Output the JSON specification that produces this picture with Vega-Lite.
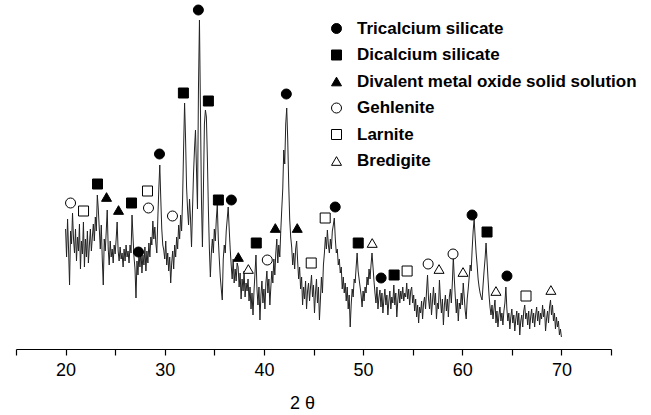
{
  "$schema": "https://vega.github.io/schema/vega-lite/v6.json",
  "autosize": "none",
  "width": 595,
  "height": 349,
  "padding": {"left": 16, "top": 0, "right": 40, "bottom": 66},
  "background": "white",
  "config": {
    "view": {"stroke": null},
    "font": "Liberation Sans"
  },
  "datasets": {
    "pattern": [
      {"angle":20.0,"counts":120},{"angle":20.1,"counts":92},{"angle":20.2,"counts":130},{"angle":20.3,"counts":100},{"angle":20.4,"counts":64},{"angle":20.5,"counts":118},{"angle":20.6,"counts":105},{"angle":20.7,"counts":136},{"angle":20.8,"counts":110},{"angle":20.9,"counts":96},
      {"angle":21.0,"counts":120},{"angle":21.1,"counts":88},{"angle":21.2,"counts":112},{"angle":21.3,"counts":98},{"angle":21.4,"counts":125},{"angle":21.5,"counts":80},{"angle":21.6,"counts":108},{"angle":21.7,"counts":95},{"angle":21.8,"counts":127},{"angle":21.9,"counts":82},
      {"angle":22.0,"counts":110},{"angle":22.1,"counts":92},{"angle":22.2,"counts":118},{"angle":22.3,"counts":86},{"angle":22.4,"counts":104},{"angle":22.5,"counts":120},{"angle":22.6,"counts":98},{"angle":22.7,"counts":112},{"angle":22.8,"counts":125},{"angle":22.9,"counts":108},
      {"angle":23.0,"counts":132},{"angle":23.1,"counts":118},{"angle":23.2,"counts":154},{"angle":23.3,"counts":140},{"angle":23.4,"counts":120},{"angle":23.5,"counts":100},{"angle":23.6,"counts":124},{"angle":23.7,"counts":90},{"angle":23.8,"counts":64},{"angle":23.9,"counts":110},
      {"angle":24.0,"counts":98},{"angle":24.1,"counts":118},{"angle":24.2,"counts":139},{"angle":24.3,"counts":100},{"angle":24.4,"counts":84},{"angle":24.5,"counts":108},{"angle":24.6,"counts":92},{"angle":24.7,"counts":100},{"angle":24.8,"counts":86},{"angle":24.9,"counts":104},
      {"angle":25.0,"counts":95},{"angle":25.1,"counts":110},{"angle":25.2,"counts":127},{"angle":25.3,"counts":98},{"angle":25.4,"counts":88},{"angle":25.5,"counts":102},{"angle":25.6,"counts":90},{"angle":25.7,"counts":96},{"angle":25.8,"counts":82},{"angle":25.9,"counts":100},
      {"angle":26.0,"counts":88},{"angle":26.1,"counts":104},{"angle":26.2,"counts":92},{"angle":26.3,"counts":98},{"angle":26.4,"counts":86},{"angle":26.5,"counts":104},{"angle":26.6,"counts":96},{"angle":26.7,"counts":134},{"angle":26.8,"counts":112},{"angle":26.9,"counts":92},
      {"angle":27.0,"counts":80},{"angle":27.1,"counts":51},{"angle":27.2,"counts":88},{"angle":27.3,"counts":74},{"angle":27.4,"counts":96},{"angle":27.5,"counts":82},{"angle":27.6,"counts":100},{"angle":27.7,"counts":76},{"angle":27.8,"counts":94},{"angle":27.9,"counts":84},
      {"angle":28.0,"counts":102},{"angle":28.1,"counts":78},{"angle":28.2,"counts":98},{"angle":28.3,"counts":86},{"angle":28.4,"counts":106},{"angle":28.5,"counts":92},{"angle":28.6,"counts":112},{"angle":28.7,"counts":104},{"angle":28.8,"counts":128},{"angle":28.9,"counts":110},
      {"angle":29.0,"counts":122},{"angle":29.1,"counts":106},{"angle":29.2,"counts":96},{"angle":29.3,"counts":130},{"angle":29.4,"counts":160},{"angle":29.5,"counts":184},{"angle":29.6,"counts":150},{"angle":29.7,"counts":120},{"angle":29.8,"counts":104},{"angle":29.9,"counts":99},
      {"angle":30.0,"counts":90},{"angle":30.1,"counts":108},{"angle":30.2,"counts":84},{"angle":30.3,"counts":96},{"angle":30.4,"counts":78},{"angle":30.5,"counts":92},{"angle":30.6,"counts":66},{"angle":30.7,"counts":86},{"angle":30.8,"counts":98},{"angle":30.9,"counts":80},
      {"angle":31.0,"counts":104},{"angle":31.1,"counts":92},{"angle":31.2,"counts":112},{"angle":31.3,"counts":100},{"angle":31.4,"counts":124},{"angle":31.5,"counts":110},{"angle":31.6,"counts":134},{"angle":31.7,"counts":118},{"angle":31.8,"counts":150},{"angle":31.9,"counts":200},
      {"angle":32.0,"counts":246},{"angle":32.1,"counts":210},{"angle":32.2,"counts":162},{"angle":32.3,"counts":140},{"angle":32.4,"counts":124},{"angle":32.5,"counts":150},{"angle":32.6,"counts":130},{"angle":32.7,"counts":102},{"angle":32.8,"counts":140},{"angle":32.9,"counts":175},
      {"angle":33.0,"counts":200},{"angle":33.1,"counts":219},{"angle":33.2,"counts":180},{"angle":33.3,"counts":140},{"angle":33.4,"counts":260},{"angle":33.5,"counts":329},{"angle":33.6,"counts":240},{"angle":33.7,"counts":150},{"angle":33.8,"counts":102},{"angle":33.9,"counts":160},
      {"angle":34.0,"counts":225},{"angle":34.1,"counts":239},{"angle":34.2,"counts":232},{"angle":34.3,"counts":190},{"angle":34.4,"counts":140},{"angle":34.5,"counts":100},{"angle":34.6,"counts":72},{"angle":34.7,"counts":96},{"angle":34.8,"counts":110},{"angle":34.9,"counts":96},
      {"angle":35.0,"counts":120},{"angle":35.1,"counts":108},{"angle":35.2,"counts":130},{"angle":35.3,"counts":144},{"angle":35.4,"counts":110},{"angle":35.5,"counts":90},{"angle":35.6,"counts":72},{"angle":35.7,"counts":60},{"angle":35.8,"counts":49},{"angle":35.9,"counts":90},
      {"angle":36.0,"counts":104},{"angle":36.1,"counts":96},{"angle":36.2,"counts":118},{"angle":36.3,"counts":130},{"angle":36.4,"counts":142},{"angle":36.5,"counts":120},{"angle":36.6,"counts":100},{"angle":36.7,"counts":84},{"angle":36.8,"counts":70},{"angle":36.9,"counts":90},
      {"angle":37.0,"counts":66},{"angle":37.1,"counts":80},{"angle":37.2,"counts":68},{"angle":37.3,"counts":86},{"angle":37.4,"counts":82},{"angle":37.5,"counts":62},{"angle":37.6,"counts":76},{"angle":37.7,"counts":50},{"angle":37.8,"counts":70},{"angle":37.9,"counts":58},
      {"angle":38.0,"counts":78},{"angle":38.1,"counts":52},{"angle":38.2,"counts":66},{"angle":38.3,"counts":58},{"angle":38.4,"counts":70},{"angle":38.5,"counts":48},{"angle":38.6,"counts":62},{"angle":38.7,"counts":40},{"angle":38.8,"counts":56},{"angle":38.9,"counts":34},
      {"angle":39.0,"counts":58},{"angle":39.1,"counts":76},{"angle":39.2,"counts":94},{"angle":39.3,"counts":60},{"angle":39.4,"counts":44},{"angle":39.5,"counts":62},{"angle":39.6,"counts":29},{"angle":39.7,"counts":54},{"angle":39.8,"counts":68},{"angle":39.9,"counts":46},
      {"angle":40.0,"counts":60},{"angle":40.1,"counts":40},{"angle":40.2,"counts":66},{"angle":40.3,"counts":78},{"angle":40.4,"counts":56},{"angle":40.5,"counts":70},{"angle":40.6,"counts":44},{"angle":40.7,"counts":62},{"angle":40.8,"counts":78},{"angle":40.9,"counts":66},
      {"angle":41.0,"counts":90},{"angle":41.1,"counts":74},{"angle":41.2,"counts":96},{"angle":41.3,"counts":110},{"angle":41.4,"counts":86},{"angle":41.5,"counts":104},{"angle":41.6,"counts":92},{"angle":41.7,"counts":118},{"angle":41.8,"counts":140},{"angle":41.9,"counts":160},
      {"angle":42.0,"counts":199},{"angle":42.1,"counts":185},{"angle":42.2,"counts":225},{"angle":42.3,"counts":241},{"angle":42.4,"counts":210},{"angle":42.5,"counts":165},{"angle":42.6,"counts":130},{"angle":42.7,"counts":112},{"angle":42.8,"counts":102},{"angle":42.9,"counts":84},
      {"angle":43.0,"counts":96},{"angle":43.1,"counts":80},{"angle":43.2,"counts":100},{"angle":43.3,"counts":108},{"angle":43.4,"counts":88},{"angle":43.5,"counts":70},{"angle":43.6,"counts":82},{"angle":43.7,"counts":60},{"angle":43.8,"counts":72},{"angle":43.9,"counts":44},
      {"angle":44.0,"counts":62},{"angle":44.1,"counts":50},{"angle":44.2,"counts":68},{"angle":44.3,"counts":40},{"angle":44.4,"counts":58},{"angle":44.5,"counts":66},{"angle":44.6,"counts":48},{"angle":44.7,"counts":62},{"angle":44.8,"counts":74},{"angle":44.9,"counts":52},
      {"angle":45.0,"counts":64},{"angle":45.1,"counts":36},{"angle":45.2,"counts":56},{"angle":45.3,"counts":70},{"angle":45.4,"counts":46},{"angle":45.5,"counts":62},{"angle":45.6,"counts":29},{"angle":45.7,"counts":50},{"angle":45.8,"counts":72},{"angle":45.9,"counts":56},
      {"angle":46.0,"counts":84},{"angle":46.1,"counts":96},{"angle":46.2,"counts":112},{"angle":46.3,"counts":100},{"angle":46.4,"counts":119},{"angle":46.5,"counts":104},{"angle":46.6,"counts":96},{"angle":46.7,"counts":110},{"angle":46.8,"counts":100},{"angle":46.9,"counts":118},
      {"angle":47.0,"counts":124},{"angle":47.1,"counts":131},{"angle":47.2,"counts":110},{"angle":47.3,"counts":96},{"angle":47.4,"counts":100},{"angle":47.5,"counts":84},{"angle":47.6,"counts":90},{"angle":47.7,"counts":76},{"angle":47.8,"counts":82},{"angle":47.9,"counts":60},
      {"angle":48.0,"counts":72},{"angle":48.1,"counts":56},{"angle":48.2,"counts":66},{"angle":48.3,"counts":48},{"angle":48.4,"counts":62},{"angle":48.5,"counts":40},{"angle":48.6,"counts":54},{"angle":48.7,"counts":22},{"angle":48.8,"counts":44},{"angle":48.9,"counts":60},
      {"angle":49.0,"counts":52},{"angle":49.1,"counts":70},{"angle":49.2,"counts":66},{"angle":49.3,"counts":82},{"angle":49.4,"counts":96},{"angle":49.5,"counts":78},{"angle":49.6,"counts":70},{"angle":49.7,"counts":62},{"angle":49.8,"counts":54},{"angle":49.9,"counts":42},
      {"angle":50.0,"counts":58},{"angle":50.1,"counts":48},{"angle":50.2,"counts":62},{"angle":50.3,"counts":56},{"angle":50.4,"counts":72},{"angle":50.5,"counts":64},{"angle":50.6,"counts":80},{"angle":50.7,"counts":70},{"angle":50.8,"counts":84},{"angle":50.9,"counts":96},
      {"angle":51.0,"counts":82},{"angle":51.1,"counts":68},{"angle":51.2,"counts":56},{"angle":51.3,"counts":46},{"angle":51.4,"counts":62},{"angle":51.5,"counts":40},{"angle":51.6,"counts":52},{"angle":51.7,"counts":59},{"angle":51.8,"counts":42},{"angle":51.9,"counts":56},
      {"angle":52.0,"counts":36},{"angle":52.1,"counts":50},{"angle":52.2,"counts":60},{"angle":52.3,"counts":44},{"angle":52.4,"counts":54},{"angle":52.5,"counts":34},{"angle":52.6,"counts":48},{"angle":52.7,"counts":58},{"angle":52.8,"counts":40},{"angle":52.9,"counts":52},
      {"angle":53.0,"counts":46},{"angle":53.1,"counts":64},{"angle":53.2,"counts":44},{"angle":53.3,"counts":56},{"angle":53.4,"counts":32},{"angle":53.5,"counts":48},{"angle":53.6,"counts":60},{"angle":53.7,"counts":46},{"angle":53.8,"counts":58},{"angle":53.9,"counts":50},
      {"angle":54.0,"counts":62},{"angle":54.1,"counts":48},{"angle":54.2,"counts":56},{"angle":54.3,"counts":52},{"angle":54.4,"counts":66},{"angle":54.5,"counts":50},{"angle":54.6,"counts":60},{"angle":54.7,"counts":44},{"angle":54.8,"counts":58},{"angle":54.9,"counts":62},
      {"angle":55.0,"counts":46},{"angle":55.1,"counts":54},{"angle":55.2,"counts":38},{"angle":55.3,"counts":50},{"angle":55.4,"counts":32},{"angle":55.5,"counts":44},{"angle":55.6,"counts":26},{"angle":55.7,"counts":42},{"angle":55.8,"counts":36},{"angle":55.9,"counts":48},
      {"angle":56.0,"counts":30},{"angle":56.1,"counts":46},{"angle":56.2,"counts":52},{"angle":56.3,"counts":40},{"angle":56.4,"counts":58},{"angle":56.5,"counts":74},{"angle":56.6,"counts":50},{"angle":56.7,"counts":40},{"angle":56.8,"counts":56},{"angle":56.9,"counts":34},
      {"angle":57.0,"counts":48},{"angle":57.1,"counts":62},{"angle":57.2,"counts":44},{"angle":57.3,"counts":56},{"angle":57.4,"counts":30},{"angle":57.5,"counts":46},{"angle":57.6,"counts":40},{"angle":57.7,"counts":69},{"angle":57.8,"counts":50},{"angle":57.9,"counts":36},
      {"angle":58.0,"counts":50},{"angle":58.1,"counts":24},{"angle":58.2,"counts":44},{"angle":58.3,"counts":54},{"angle":58.4,"counts":38},{"angle":58.5,"counts":50},{"angle":58.6,"counts":32},{"angle":58.7,"counts":52},{"angle":58.8,"counts":60},{"angle":58.9,"counts":46},
      {"angle":59.0,"counts":66},{"angle":59.1,"counts":92},{"angle":59.2,"counts":70},{"angle":59.3,"counts":52},{"angle":59.4,"counts":36},{"angle":59.5,"counts":50},{"angle":59.6,"counts":28},{"angle":59.7,"counts":46},{"angle":59.8,"counts":40},{"angle":59.9,"counts":56},
      {"angle":60.0,"counts":44},{"angle":60.1,"counts":66},{"angle":60.2,"counts":52},{"angle":60.3,"counts":38},{"angle":60.4,"counts":30},{"angle":60.5,"counts":50},{"angle":60.6,"counts":60},{"angle":60.7,"counts":72},{"angle":60.8,"counts":84},{"angle":60.9,"counts":78},
      {"angle":61.0,"counts":100},{"angle":61.1,"counts":118},{"angle":61.2,"counts":130},{"angle":61.3,"counts":112},{"angle":61.4,"counts":96},{"angle":61.5,"counts":84},{"angle":61.6,"counts":70},{"angle":61.7,"counts":62},{"angle":61.8,"counts":56},{"angle":61.9,"counts":52},
      {"angle":62.0,"counts":49},{"angle":62.1,"counts":64},{"angle":62.2,"counts":78},{"angle":62.3,"counts":90},{"angle":62.4,"counts":106},{"angle":62.5,"counts":88},{"angle":62.6,"counts":70},{"angle":62.7,"counts":54},{"angle":62.8,"counts":42},{"angle":62.9,"counts":34},
      {"angle":63.0,"counts":44},{"angle":63.1,"counts":30},{"angle":63.2,"counts":40},{"angle":63.3,"counts":49},{"angle":63.4,"counts":26},{"angle":63.5,"counts":38},{"angle":63.6,"counts":22},{"angle":63.7,"counts":34},{"angle":63.8,"counts":42},{"angle":63.9,"counts":28},
      {"angle":64.0,"counts":36},{"angle":64.1,"counts":24},{"angle":64.2,"counts":38},{"angle":64.3,"counts":46},{"angle":64.4,"counts":62},{"angle":64.5,"counts":40},{"angle":64.6,"counts":28},{"angle":64.7,"counts":36},{"angle":64.8,"counts":20},{"angle":64.9,"counts":32},
      {"angle":65.0,"counts":40},{"angle":65.1,"counts":26},{"angle":65.2,"counts":34},{"angle":65.3,"counts":18},{"angle":65.4,"counts":30},{"angle":65.5,"counts":38},{"angle":65.6,"counts":24},{"angle":65.7,"counts":36},{"angle":65.8,"counts":14},{"angle":65.9,"counts":28},
      {"angle":66.0,"counts":34},{"angle":66.1,"counts":22},{"angle":66.2,"counts":38},{"angle":66.3,"counts":44},{"angle":66.4,"counts":30},{"angle":66.5,"counts":36},{"angle":66.6,"counts":24},{"angle":66.7,"counts":38},{"angle":66.8,"counts":20},{"angle":66.9,"counts":32},
      {"angle":67.0,"counts":40},{"angle":67.1,"counts":26},{"angle":67.2,"counts":36},{"angle":67.3,"counts":22},{"angle":67.4,"counts":34},{"angle":67.5,"counts":42},{"angle":67.6,"counts":28},{"angle":67.7,"counts":38},{"angle":67.8,"counts":24},{"angle":67.9,"counts":36},
      {"angle":68.0,"counts":30},{"angle":68.1,"counts":44},{"angle":68.2,"counts":32},{"angle":68.3,"counts":40},{"angle":68.4,"counts":18},{"angle":68.5,"counts":30},{"angle":68.6,"counts":38},{"angle":68.7,"counts":26},{"angle":68.8,"counts":42},{"angle":68.9,"counts":49},
      {"angle":69.0,"counts":34},{"angle":69.1,"counts":44},{"angle":69.2,"counts":28},{"angle":69.3,"counts":36},{"angle":69.4,"counts":20},{"angle":69.5,"counts":32},{"angle":69.6,"counts":22},{"angle":69.7,"counts":28},{"angle":69.8,"counts":14},{"angle":69.9,"counts":20},
      {"angle":70.0,"counts":12}
    ],
    "phases": [
      {"angle":27.35,"counts":97,"phase":"Tricalcium silicate"},
      {"angle":29.47,"counts":195,"phase":"Tricalcium silicate"},
      {"angle":33.39,"counts":339,"phase":"Tricalcium silicate"},
      {"angle":36.72,"counts":149,"phase":"Tricalcium silicate"},
      {"angle":42.26,"counts":255,"phase":"Tricalcium silicate"},
      {"angle":47.19,"counts":142,"phase":"Tricalcium silicate"},
      {"angle":51.82,"counts":71,"phase":"Tricalcium silicate"},
      {"angle":60.99,"counts":134,"phase":"Tricalcium silicate"},
      {"angle":64.51,"counts":73,"phase":"Tricalcium silicate"},
      {"angle":23.22,"counts":165,"phase":"Dicalcium silicate"},
      {"angle":26.65,"counts":146,"phase":"Dicalcium silicate"},
      {"angle":31.88,"counts":256,"phase":"Dicalcium silicate"},
      {"angle":34.40,"counts":248,"phase":"Dicalcium silicate"},
      {"angle":35.41,"counts":149,"phase":"Dicalcium silicate"},
      {"angle":39.23,"counts":106,"phase":"Dicalcium silicate"},
      {"angle":49.51,"counts":106,"phase":"Dicalcium silicate"},
      {"angle":53.13,"counts":74,"phase":"Dicalcium silicate"},
      {"angle":62.50,"counts":117,"phase":"Dicalcium silicate"},
      {"angle":24.13,"counts":152,"phase":"Divalent metal oxide solid solution"},
      {"angle":25.34,"counts":139,"phase":"Divalent metal oxide solid solution"},
      {"angle":37.42,"counts":92,"phase":"Divalent metal oxide solid solution"},
      {"angle":41.15,"counts":121,"phase":"Divalent metal oxide solid solution"},
      {"angle":43.36,"counts":121,"phase":"Divalent metal oxide solid solution"},
      {"angle":20.50,"counts":146,"phase":"Gehlenite"},
      {"angle":28.36,"counts":141,"phase":"Gehlenite"},
      {"angle":30.78,"counts":133,"phase":"Gehlenite"},
      {"angle":40.34,"counts":89,"phase":"Gehlenite"},
      {"angle":56.56,"counts":85,"phase":"Gehlenite"},
      {"angle":59.07,"counts":95,"phase":"Gehlenite"},
      {"angle":21.81,"counts":138,"phase":"Larnite"},
      {"angle":28.26,"counts":158,"phase":"Larnite"},
      {"angle":44.77,"counts":86,"phase":"Larnite"},
      {"angle":46.18,"counts":131,"phase":"Larnite"},
      {"angle":54.44,"counts":78,"phase":"Larnite"},
      {"angle":66.43,"counts":53,"phase":"Larnite"},
      {"angle":38.43,"counts":80,"phase":"Bredigite"},
      {"angle":50.92,"counts":106,"phase":"Bredigite"},
      {"angle":57.66,"counts":80,"phase":"Bredigite"},
      {"angle":60.08,"counts":77,"phase":"Bredigite"},
      {"angle":63.40,"counts":58,"phase":"Bredigite"},
      {"angle":68.94,"counts":59,"phase":"Bredigite"}
    ]
  },
  "layer": [
    {
      "data": {"name": "pattern"},
      "mark": {"type": "line", "stroke": "#222222", "strokeWidth": 1, "interpolate": "linear"},
      "encoding": {
        "x": {
          "field": "angle", "type": "quantitative",
          "scale": {"domain": [15, 75], "nice": false, "zero": false},
          "axis": {
            "title": "2 θ",
            "values": [15, 20, 25, 30, 35, 40, 45, 50, 55, 60, 65, 70, 75],
            "labelExpr": "datum.value % 10 == 0 && datum.value >= 20 && datum.value <= 70 ? datum.label : ''",
            "grid": false,
            "domainColor": "black", "domainWidth": 1.2,
            "tickColor": "black", "tickSize": 6, "tickWidth": 1.2,
            "labelFontSize": 18, "labelColor": "black", "labelPadding": 6, "labelFont": "Liberation Sans",
            "titleFontSize": 18, "titleFontWeight": "normal", "titleColor": "black", "titleFont": "Liberation Sans",
            "titleX": 286, "titleY": 45, "titleAnchor": null
          }
        },
        "y": {
          "field": "counts", "type": "quantitative",
          "scale": {"domain": [0, 349], "nice": false},
          "axis": null
        }
      }
    },
    {
      "data": {"name": "phases"},
      "mark": {"type": "point", "filled": true, "size": 100, "strokeWidth": 1, "opacity": 1},
      "encoding": {
        "x": {"field": "angle", "type": "quantitative"},
        "y": {"field": "counts", "type": "quantitative"},
        "shape": {
          "field": "phase", "type": "nominal",
          "scale": {
            "domain": ["Tricalcium silicate", "Dicalcium silicate", "Divalent metal oxide solid solution", "Gehlenite", "Larnite", "Bredigite"],
            "range": ["circle", "square", "triangle-up", "circle", "square", "triangle-up"]
          },
          "legend": {
            "title": null, "orient": "none", "legendX": 312, "legendY": 20, "padding": 0,
            "rowPadding": 8.5, "symbolSize": 100, "symbolStrokeWidth": 1, "labelFontSize": 17, "labelFontWeight": "bold",
            "labelFont": "Liberation Sans", "labelColor": "black", "labelOffset": 12, "labelLimit": 400
          }
        },
        "fill": {
          "field": "phase", "type": "nominal",
          "scale": {
            "domain": ["Tricalcium silicate", "Dicalcium silicate", "Divalent metal oxide solid solution", "Gehlenite", "Larnite", "Bredigite"],
            "range": ["black", "black", "black", "white", "white", "white"]
          },
          "legend": {
            "title": null, "orient": "none", "legendX": 312, "legendY": 20, "padding": 0,
            "rowPadding": 8.5, "symbolSize": 100, "symbolStrokeWidth": 1, "labelFontSize": 17, "labelFontWeight": "bold",
            "labelFont": "Liberation Sans", "labelColor": "black", "labelOffset": 12, "labelLimit": 400
          }
        },
        "stroke": {
          "field": "phase", "type": "nominal",
          "scale": {
            "domain": ["Tricalcium silicate", "Dicalcium silicate", "Divalent metal oxide solid solution", "Gehlenite", "Larnite", "Bredigite"],
            "range": ["black", "black", "black", "black", "black", "black"]
          },
          "legend": {
            "title": null, "orient": "none", "legendX": 312, "legendY": 20, "padding": 0,
            "rowPadding": 8.5, "symbolSize": 100, "symbolStrokeWidth": 1, "labelFontSize": 17, "labelFontWeight": "bold",
            "labelFont": "Liberation Sans", "labelColor": "black", "labelOffset": 12, "labelLimit": 400
          }
        }
      }
    }
  ]
}
